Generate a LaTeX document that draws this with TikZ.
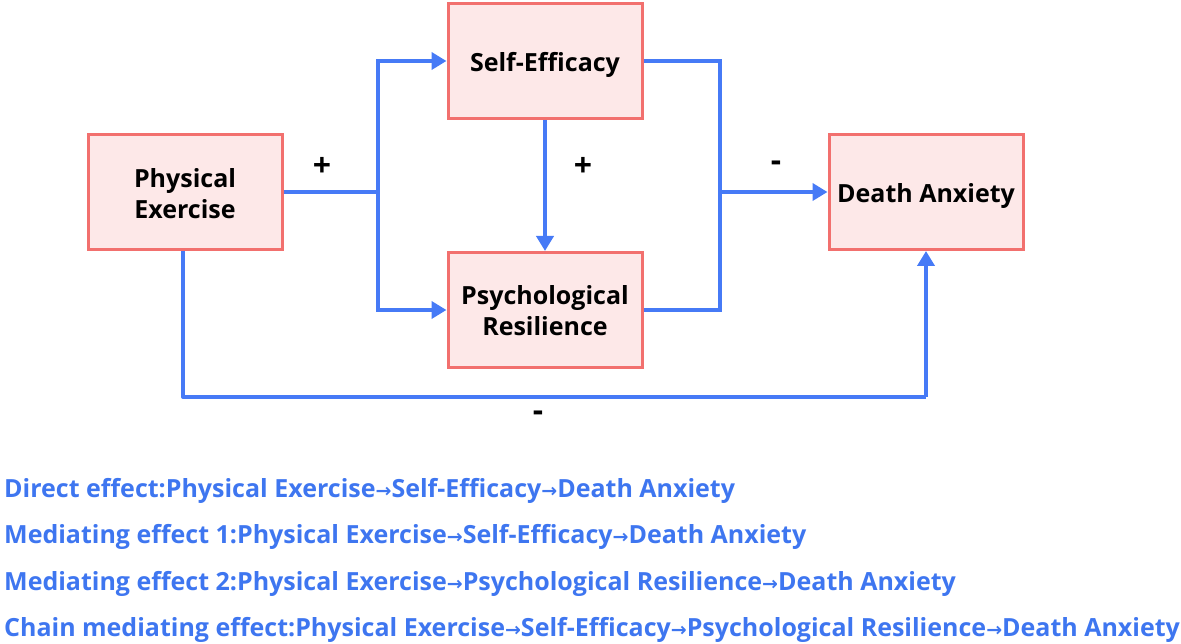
\documentclass[tikz,border=0pt]{standalone}
\usepackage{fontspec}
\setmainfont{Open Sans}
\newfontfamily\arrfont{DejaVu Sans}
\usetikzlibrary{arrows.meta}
\definecolor{boxfill}{RGB}{253,232,232}
\definecolor{boxline}{RGB}{242,112,110}
\definecolor{lineblue}{RGB}{70,122,246}
\definecolor{textblue}{RGB}{62,118,240}
\newcommand{\ra}{{\arrfont\fontsize{19}{22}\selectfont →}}
\begin{document}
\begin{tikzpicture}[x=1pt,y=-1pt,
  vbox/.style={draw=boxline,line width=3pt,fill=boxfill,minimum width=194pt,minimum height=115pt,inner sep=0pt},
  btext/.style={inner sep=0pt,align=center,font=\fontsize{25}{31}\selectfont\bfseries},
  conn/.style={draw=lineblue,line width=4pt},
  arr/.style={conn,-{Triangle[length=15pt,width=17pt]}},
  sign/.style={font=\fontsize{32}{34}\selectfont\bfseries},
  eff/.style={anchor=west,inner sep=0pt,text=textblue,font=\fontsize{25}{28}\selectfont\bfseries}]
\useasboundingbox (0,0) rectangle (1181,644);
\node[vbox] (pe) at (185,192) {};
\node[vbox] (se) at (545,61) {};
\node[vbox] (pr) at (545,310) {};
\node[vbox] (da) at (926,192) {};
\node[btext] (pe-t) at ([yshift=-2pt]pe.center) {Physical\\Exercise};
\node[btext] (se-t) at ([yshift=-4pt]se.center) {Self-Efficacy};
\node[btext] (pr-t) at ([yshift=-1pt]pr.center) {Psychological\\Resilience};
\node[btext] (da-t) at ([yshift=-4pt]da.center) {Death Anxiety};
\coordinate (j1) at (378,192);
\coordinate (j2) at (720,192);
\draw[conn] (pe.east) -- (j1);
\draw[arr] (j1) |- (se.west);
\draw[arr] (j1) |- (pr.west);
\draw[conn] (se.east) -| (j2);
\draw[conn] (pr.east) -| (j2);
\draw[arr] (j2) -- (da.west);
\draw[arr] (se.south) -- (pr.north);
\coordinate (b1) at (183,397);
\coordinate (b2) at (926,397);
\draw[conn,line join=round] (pe.south -| b1) -- (b1) -- (b2);
\draw[arr] (b2) -- (da.south);
\node[sign] (s1) at (322,167) {+};
\node[sign] (s2) at (583,167) {+};
\node[sign] (s3) at (776,166) {-};
\node[sign] (s4) at (538,416) {-};
\node[eff] (e1) at (4,491) {Direct effect:Physical Exercise\ra Self-Efficacy\ra Death Anxiety};
\node[eff] (e2) at (4,537) {Mediating effect 1:Physical Exercise\ra Self-Efficacy\ra Death Anxiety};
\node[eff] (e3) at (4,584) {Mediating effect 2:Physical Exercise\ra Psychological Resilience\ra Death Anxiety};
\node[eff] (e4) at (4,630) {Chain mediating effect:Physical Exercise\ra Self-Efficacy\ra Psychological Resilience\ra Death Anxiety};
\end{tikzpicture}
\end{document}
